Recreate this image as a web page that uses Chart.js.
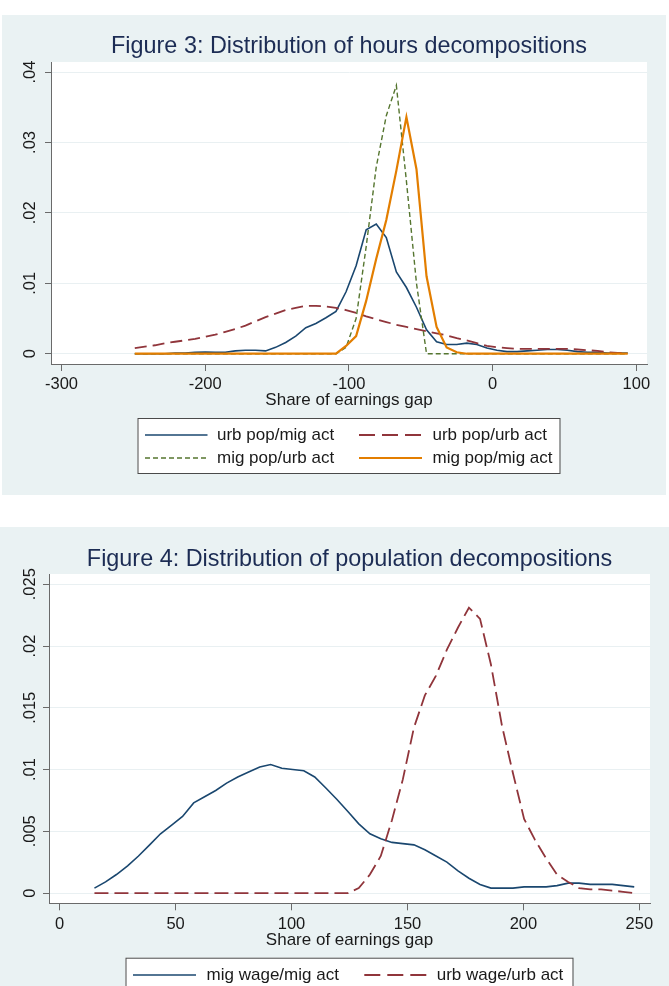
<!DOCTYPE html>
<html>
<head>
<meta charset="utf-8">
<title>Distribution of decompositions</title>
<script src="https://cdn.jsdelivr.net/npm/chart.js@4.4.1/dist/chart.umd.min.js"></script>
<style>
  html, body { margin: 0; padding: 0; background: #ffffff; }
  body { position: relative; width: 669px; height: 986px; overflow: hidden; }
  .panel { position: absolute; background: #eaf2f3; }
  #panel3 { left: 2px; top: 15px; width: 664px; height: 480px; }
  #panel4 { left: 0; top: 527px; width: 669px; height: 459px; }
  canvas { position: absolute; left: 0; }
  #chart3 { top: 15px; }
  #chart4 { top: 527px; }
</style>
</head>
<body>
<div class="panel" id="panel3"></div>
<div class="panel" id="panel4"></div>
<canvas id="chart3" width="669" height="480"></canvas>
<canvas id="chart4" width="669" height="459"></canvas>

<script>
// -----------------------------------------
// Daten Figure 3 (hours decompositions)
// -----------------------------------------
const hoursGap = [-249, -242, -235, -228, -221, -214, -207, -200, -193, -186,
                  -179, -172, -165, -158, -151, -144, -137, -130, -123, -116,
                  -109, -102, -95, -88, -81, -74, -67, -60, -53, -46,
                  -39, -32, -25, -18, -11, -4, 3, 10, 17, 24,
                  31, 38, 45, 52, 59, 66, 73, 80, 87, 94];

const hoursUrbPopMigAct = [0, 0, 0, 0, 0.0001, 0.0001, 0.0002, 0.00025, 0.0002, 0.0002,
                           0.0004, 0.0005, 0.0005, 0.0004, 0.0009, 0.0016, 0.0025, 0.0037, 0.0043, 0.0051,
                           0.0060, 0.0088, 0.0125, 0.0176, 0.0184, 0.0165, 0.0116, 0.0094, 0.0066, 0.0034,
                           0.0017, 0.0013, 0.0013, 0.0015, 0.0013, 0.0008, 0.0005, 0.0003, 0.0003, 0.0004,
                           0.0005, 0.0006, 0.0006, 0.0005, 0.0003, 0.0002, 0.0002, 0.0001, 0.0001, 0.0001];

const hoursUrbPopUrbAct = [0.0008, 0.0010, 0.0012, 0.0015, 0.0017, 0.0019, 0.0021, 0.0024, 0.0027, 0.0031,
                           0.0035, 0.0040, 0.0046, 0.0052, 0.0057, 0.0062, 0.0065, 0.0068, 0.0068, 0.0067,
                           0.0065, 0.0062, 0.0058, 0.0053, 0.0049, 0.0045, 0.0041, 0.0038, 0.0035, 0.0032,
                           0.0029, 0.0026, 0.0022, 0.0019, 0.0015, 0.0011, 0.0009, 0.0008, 0.0007, 0.0007,
                           0.0007, 0.0007, 0.0007, 0.0007, 0.0006, 0.0005, 0.0004, 0.0002, 0.0001, 0.0001];

const hoursMigPopUrbAct = [0, 0, 0, 0, 0, 0, 0, 0, 0, 0,
                           0, 0, 0, 0, 0, 0, 0, 0, 0, 0,
                           0, 0.0009, 0.0050, 0.0152, 0.0265, 0.0338, 0.0381, 0.0245, 0.0100, 0,
                           0, 0, 0, 0, 0, 0, 0, 0, 0, 0,
                           0, 0, 0, 0, 0, 0, 0, 0, 0, 0];

const hoursMigPopMigAct = [0, 0, 0, 0, 0, 0, 0, 0, 0, 0,
                           0, 0, 0, 0, 0, 0, 0, 0, 0, 0,
                           0, 0.0011, 0.0025, 0.0075, 0.0135, 0.0190, 0.0260, 0.0336, 0.0262, 0.0110,
                           0.0038, 0.0009, 0.0002, 0, 0, 0, 0, 0, 0, 0,
                           0, 0, 0, 0, 0, 0, 0, 0, 0, 0];

const hoursXTicks = [-300, -200, -100, 0, 100];
const hoursXTickLabels = ["-300", "-200", "-100", "0", "100"];
const hoursYTicks = [0, 0.01, 0.02, 0.03, 0.04];
const hoursYTickLabels = ["0", ".01", ".02", ".03", ".04"];


// -----------------------------------------
// Daten Figure 4 (population decompositions)
// -----------------------------------------
const popGap = [15.0, 19.8, 24.5, 29.3, 34.0, 38.8, 43.5, 48.3, 53.0, 57.8,
                62.5, 67.3, 72.0, 76.8, 81.5, 86.3, 91.0, 95.8, 100.5, 105.3,
                110.0, 114.8, 119.5, 124.3, 129.0, 133.8, 138.5, 143.3, 148.0, 152.8,
                157.5, 162.3, 167.0, 171.8, 176.5, 181.3, 186.0, 190.8, 195.5, 200.3,
                205.0, 209.8, 214.5, 219.3, 224.0, 228.8, 233.5, 238.3, 243.0, 247.8];

const popMigWageMigAct = [0.0004, 0.0009, 0.0015, 0.0022, 0.0030, 0.0039, 0.0048, 0.0055, 0.0062, 0.0073,
                          0.0078, 0.0083, 0.0089, 0.0094, 0.0098, 0.0102, 0.0104, 0.0101, 0.0100, 0.0099,
                          0.0094, 0.0085, 0.0076, 0.0066, 0.0056, 0.0048, 0.0044, 0.0041, 0.0040, 0.0039,
                          0.0035, 0.0030, 0.0025, 0.0018, 0.0012, 0.0007, 0.0004, 0.0004, 0.0004, 0.0005,
                          0.0005, 0.0005, 0.0006, 0.0008, 0.0008, 0.0007, 0.0007, 0.0007, 0.0006, 0.0005];

const popUrbWageUrbAct = [0, 0, 0, 0, 0, 0, 0, 0, 0, 0,
                          0, 0, 0, 0, 0, 0, 0, 0, 0, 0,
                          0, 0, 0, 0, 0.0004, 0.0015, 0.0030, 0.0059, 0.0092, 0.0134,
                          0.0160, 0.0176, 0.0197, 0.0215, 0.0231, 0.0222, 0.0185, 0.0135, 0.0097, 0.0060,
                          0.0043, 0.0028, 0.0015, 0.0009, 0.0004, 0.0003, 0.0003, 0.0002, 0.0001, 0];

const popXTicks = [0, 50, 100, 150, 200, 250];
const popXTickLabels = ["0", "50", "100", "150", "200", "250"];
const popYTicks = [0, 0.005, 0.01, 0.015, 0.02, 0.025];
const popYTickLabels = ["0", ".005", ".01", ".015", ".02", ".025"];


// -----------------------------------------
// Farben & Schrift
// -----------------------------------------
const FONT = "'Liberation Sans', Arial, sans-serif";
const NAVY = "#1a476f";
const MAROON = "#90353b";
const GREEN = "#55752f";
const ORANGE = "#e37e00";
const GRID = "#e9f0f2";
const AXIS = "#6a6a6a";
const TEXT = "#1a1a1a";
const TITLE = "#1c2c54";

Chart.defaults.font.family = FONT;


// -----------------------------------------
// Hilfsfunktionen
// -----------------------------------------
function series(label, xs, ys, color, width, dash, order) {
    return {
        label: label,
        data: xs.map((x, i) => ({ x: x, y: ys[i] })),
        borderColor: color,
        backgroundColor: color,
        borderWidth: width,
        borderDash: dash,
        pointRadius: 0,
        tension: 0,
        fill: false,
        order: order
    };
}

function xScale(min, max, ticks, labels, titlePad) {
    return {
        type: "linear",
        min: min,
        max: max,
        afterBuildTicks: s => { s.ticks = ticks.map(v => ({ value: v })); },
        afterFit: s => { s.height = 60; },
        grid: { drawOnChartArea: false, drawTicks: true, tickLength: 7, color: AXIS, tickColor: AXIS },
        border: { display: true, color: AXIS, width: 1 },
        ticks: {
            autoSkip: false, maxRotation: 0, minRotation: 0, padding: 4,
            color: TEXT, font: { family: FONT, size: 16.5 },
            callback: (v, i) => labels[i]
        },
        title: {
            display: true, text: "Share of earnings gap", color: TEXT,
            font: { family: FONT, size: 17 },
            padding: { top: 0, bottom: titlePad }
        }
    };
}

function yScale(min, max, ticks, width) {
    return {
        type: "linear",
        min: min,
        max: max,
        afterBuildTicks: s => { s.ticks = ticks.map(v => ({ value: v })); },
        afterFit: s => { s.width = width; },
        grid: { color: GRID, lineWidth: 1, drawTicks: true, tickLength: 6, tickColor: AXIS },
        border: { display: true, color: AXIS, width: 1 },
        ticks: { display: false }
    };
}

// weisser Plotbereich
const plotBackground = {
    id: "plotBackground",
    beforeDraw(chart) {
        const a = chart.chartArea;
        const ctx = chart.ctx;
        ctx.save();
        ctx.fillStyle = "#ffffff";
        ctx.fillRect(a.left, a.top, a.right - a.left, a.bottom - a.top);
        ctx.restore();
    }
};

// gedrehte y-Beschriftung (wie Stata)
function rotatedYLabels(labels, x) {
    return {
        id: "rotatedYLabels",
        afterDraw(chart) {
            const scale = chart.scales.y;
            const ctx = chart.ctx;
            ctx.save();
            ctx.font = "16.5px " + FONT;
            ctx.fillStyle = TEXT;
            ctx.textAlign = "center";
            ctx.textBaseline = "middle";
            scale.ticks.forEach((t, i) => {
                const y = scale.getPixelForValue(t.value);
                ctx.save();
                ctx.translate(x, y);
                ctx.rotate(-Math.PI / 2);
                ctx.fillText(labels[i], 0, 0);
                ctx.restore();
            });
            ctx.restore();
        }
    };
}

// Legende im Kasten
function boxLegend(spec) {
    return {
        id: "boxLegend",
        afterDraw(chart) {
            const ctx = chart.ctx;
            ctx.save();
            ctx.fillStyle = "#ffffff";
            ctx.fillRect(spec.box.x, spec.box.y, spec.box.w, spec.box.h);
            ctx.strokeStyle = "#4a4a4a";
            ctx.lineWidth = 1;
            ctx.strokeRect(spec.box.x + 0.5, spec.box.y + 0.5, spec.box.w, spec.box.h);

            spec.items.forEach(it => {
                ctx.beginPath();
                ctx.setLineDash(it.dash);
                ctx.strokeStyle = it.color;
                ctx.lineWidth = it.width;
                ctx.moveTo(it.x1, it.y);
                ctx.lineTo(it.x2, it.y);
                ctx.stroke();
                ctx.setLineDash([]);
                ctx.fillStyle = TEXT;
                ctx.font = "17px " + FONT;
                ctx.textAlign = "left";
                ctx.textBaseline = "middle";
                ctx.fillText(it.label, it.tx, it.y + 0.5);
            });
            ctx.restore();
        }
    };
}


// -----------------------------------------
// Figure 3
// -----------------------------------------
new Chart(document.getElementById("chart3"), {
    type: "line",
    data: {
        datasets: [
            series("urb pop/mig act", hoursGap, hoursUrbPopMigAct, NAVY, 1.6, [], 4),
            series("urb pop/urb act", hoursGap, hoursUrbPopUrbAct, MAROON, 1.8, [12, 6], 3),
            series("mig pop/urb act", hoursGap, hoursMigPopUrbAct, GREEN, 1.4, [5, 3], 2),
            series("mig pop/mig act", hoursGap, hoursMigPopMigAct, ORANGE, 2.2, [], 1)
        ]
    },
    options: {
        responsive: false,
        animation: false,
        layout: { padding: { left: 0, right: 22, top: 0, bottom: 71 } },
        plugins: {
            legend: { display: false },
            tooltip: { enabled: false },
            title: {
                display: true,
                text: "Figure 3: Distribution of hours decompositions",
                fullSize: false,
                color: TITLE,
                font: { family: FONT, size: 23.4, weight: "normal" },
                padding: { top: 18, bottom: 0.92 }
            }
        },
        scales: {
            x: xScale(-307.3, 107.4, hoursXTicks, hoursXTickLabels, 13),
            y: yScale(-0.00146, 0.04142, hoursYTicks, 51)
        }
    },
    plugins: [
        plotBackground,
        rotatedYLabels(hoursYTickLabels, 30.5),
        boxLegend({
            box: { x: 137.5, y: 403, w: 422, h: 55 },
            items: [
                { label: "urb pop/mig act", color: NAVY, width: 1.6, dash: [], x1: 145, x2: 207.5, tx: 217, y: 420 },
                { label: "urb pop/urb act", color: MAROON, width: 1.8, dash: [16, 7], x1: 359, x2: 422, tx: 432.5, y: 420 },
                { label: "mig pop/urb act", color: GREEN, width: 1.4, dash: [5, 3], x1: 145, x2: 207.5, tx: 217, y: 443 },
                { label: "mig pop/mig act", color: ORANGE, width: 2.2, dash: [], x1: 359, x2: 422, tx: 432.5, y: 443 }
            ]
        })
    ]
});


// -----------------------------------------
// Figure 4
// -----------------------------------------
new Chart(document.getElementById("chart4"), {
    type: "line",
    data: {
        datasets: [
            series("mig wage/mig act", popGap, popMigWageMigAct, NAVY, 1.6, [], 2),
            series("urb wage/urb act", popGap, popUrbWageUrbAct, MAROON, 1.8, [14, 6], 1)
        ]
    },
    options: {
        responsive: false,
        animation: false,
        layout: { padding: { left: 0, right: 19, top: 0, bottom: 22.7 } },
        plugins: {
            legend: { display: false },
            tooltip: { enabled: false },
            title: {
                display: true,
                text: "Figure 4: Distribution of population decompositions",
                fullSize: false,
                color: TITLE,
                font: { family: FONT, size: 23.4, weight: "normal" },
                padding: { top: 18.92, bottom: 0 }
            }
        },
        scales: {
            x: xScale(-4.6, 254.6, popXTicks, popXTickLabels, 12.4),
            y: yScale(-0.00083, 0.02583, popYTicks, 49)
        }
    },
    plugins: [
        plotBackground,
        rotatedYLabels(popYTickLabels, 30),
        boxLegend({
            box: { x: 125.5, y: 430.7, w: 447, h: 40 },
            items: [
                { label: "mig wage/mig act", color: NAVY, width: 1.6, dash: [], x1: 133, x2: 196, tx: 206.6, y: 448 },
                { label: "urb wage/urb act", color: MAROON, width: 1.8, dash: [16, 7], x1: 364.3, x2: 427.4, tx: 436.7, y: 448 }
            ]
        })
    ]
});
</script>
</body>
</html>
